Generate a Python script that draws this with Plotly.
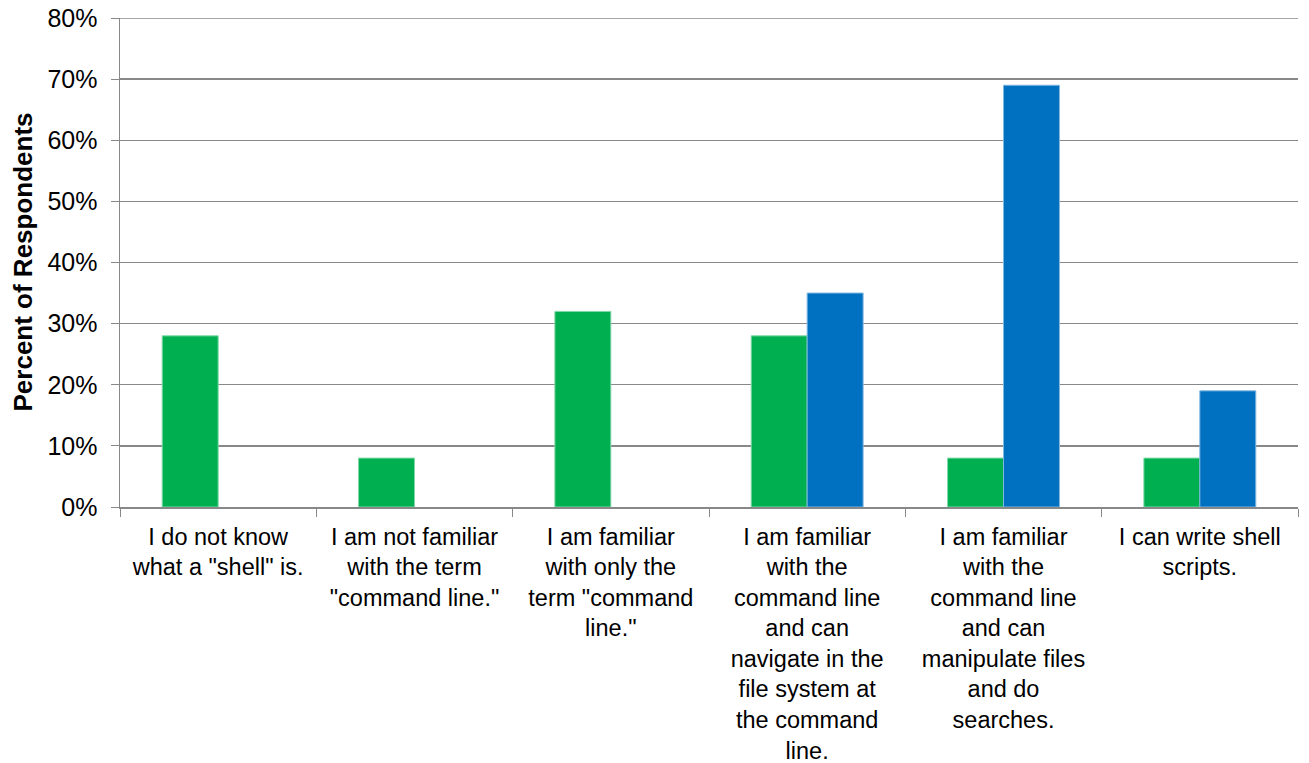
import plotly.graph_objects as go

categories = [
    'I do not know<br>what a "shell" is.',
    'I am not familiar<br>with the term<br>"command line."',
    'I am familiar<br>with only the<br>term "command<br>line."',
    'I am familiar<br>with the<br>command line<br>and can<br>navigate in the<br>file system at<br>the command<br>line.',
    'I am familiar<br>with the<br>command line<br>and can<br>manipulate files<br>and do<br>searches.',
    'I can write shell<br>scripts.',
]
green_values = [0.28, 0.08, 0.32, 0.28, 0.08, 0.08]
blue_values = [None, None, None, 0.35, 0.69, 0.19]
y_ticks = [0, 0.1, 0.2, 0.3, 0.4, 0.5, 0.6, 0.7, 0.8]
y_tick_labels = ["0%", "10%", "20%", "30%", "40%", "50%", "60%", "70%", "80%"]
y_title = "Percent of Respondents"
y_max = 0.8

FONT = "Liberation Sans, Arial, sans-serif"
GRID = "#888888"

fig = go.Figure()
fig.add_trace(go.Bar(x=categories, y=green_values, name="Group 1",
                     marker=dict(color="#00B050", line=dict(color="#7FD8A7", width=1))))
fig.add_trace(go.Bar(x=categories, y=blue_values, name="Group 2",
                     marker=dict(color="#0070C0", line=dict(color="#7FB7E0", width=1))))

fig.update_layout(
    width=1309, height=763,
    margin=dict(l=120, r=11, t=18, b=256, autoexpand=False),
    paper_bgcolor="white", plot_bgcolor="white",
    barmode="group", bargap=0.43, bargroupgap=0,
    showlegend=False,
    font=dict(family=FONT, size=24, color="black"),
    xaxis=dict(
        type="category", tickson="boundaries", ticks="outside", ticklen=8,
        tickcolor=GRID, showline=True, linecolor=GRID, linewidth=1.5,
        showgrid=False, tickfont=dict(size=23.5), automargin=False,
        ticklabelstandoff=8,
    ),
    yaxis=dict(
        range=[0, y_max], tickvals=y_ticks, ticktext=y_tick_labels,
        ticks="outside", ticklen=8, tickcolor=GRID,
        showline=True, linecolor=GRID, linewidth=1.5,
        showgrid=True, gridcolor=GRID, gridwidth=1.4,
        tickfont=dict(size=25), automargin=False, ticklabelstandoff=8,
    ),
    shapes=[dict(type="line", xref="paper", yref="y", x0=0, x1=1,
                 y0=y_max, y1=y_max, line=dict(color=GRID, width=1.6),
                 layer="above")],
    annotations=[dict(
        text="<b>" + y_title + "</b>", xref="paper", yref="paper",
        x=0, y=0.5, xanchor="center", yanchor="middle", xshift=-98,
        textangle=-90, showarrow=False, font=dict(size=26, family=FONT),
    )],
)

fig.write_html(
    "out.html",
    config={"displayModeBar": False, "staticPlot": True},
    post_script="document.body.style.margin='0';document.body.style.overflow='hidden';",
)
